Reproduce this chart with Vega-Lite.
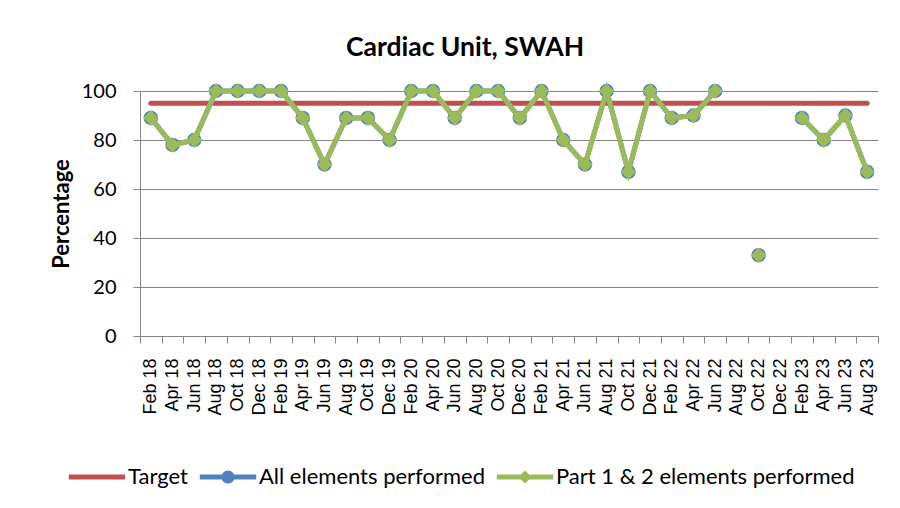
{
  "$schema": "https://vega.github.io/schema/vega-lite/v6.json",
  "width": 738,
  "height": 245,
  "autosize": {"type": "none"},
  "padding": {"left": 140, "top": 91, "right": 22, "bottom": 172},
  "background": "white",
  "title": {
    "text": "Cardiac Unit, SWAH",
    "font": "Lato",
    "fontSize": 26.5,
    "fontWeight": "bold",
    "color": "black",
    "anchor": "middle",
    "dx": -44,
    "offset": 20
  },
  "config": {"view": {"stroke": null}},
  "data": {
    "values": [
      {"month": "Feb 18", "target": 95, "all": 89, "part": 89},
      {"month": "Apr 18", "target": 95, "all": 78, "part": 78},
      {"month": "Jun 18", "target": 95, "all": 80, "part": 80},
      {"month": "Aug 18", "target": 95, "all": 100, "part": 100},
      {"month": "Oct 18", "target": 95, "all": 100, "part": 100},
      {"month": "Dec 18", "target": 95, "all": 100, "part": 100},
      {"month": "Feb 19", "target": 95, "all": 100, "part": 100},
      {"month": "Apr 19", "target": 95, "all": 89, "part": 89},
      {"month": "Jun 19", "target": 95, "all": 70, "part": 70},
      {"month": "Aug 19", "target": 95, "all": 89, "part": 89},
      {"month": "Oct 19", "target": 95, "all": 89, "part": 89},
      {"month": "Dec 19", "target": 95, "all": 80, "part": 80},
      {"month": "Feb 20", "target": 95, "all": 100, "part": 100},
      {"month": "Apr 20", "target": 95, "all": 100, "part": 100},
      {"month": "Jun 20", "target": 95, "all": 89, "part": 89},
      {"month": "Aug 20", "target": 95, "all": 100, "part": 100},
      {"month": "Oct 20", "target": 95, "all": 100, "part": 100},
      {"month": "Dec 20", "target": 95, "all": 89, "part": 89},
      {"month": "Feb 21", "target": 95, "all": 100, "part": 100},
      {"month": "Apr 21", "target": 95, "all": 80, "part": 80},
      {"month": "Jun 21", "target": 95, "all": 70, "part": 70},
      {"month": "Aug 21", "target": 95, "all": 100, "part": 100},
      {"month": "Oct 21", "target": 95, "all": 67, "part": 67},
      {"month": "Dec 21", "target": 95, "all": 100, "part": 100},
      {"month": "Feb 22", "target": 95, "all": 89, "part": 89},
      {"month": "Apr 22", "target": 95, "all": 90, "part": 90},
      {"month": "Jun 22", "target": 95, "all": 100, "part": 100},
      {"month": "Aug 22", "target": 95, "all": null, "part": null},
      {"month": "Oct 22", "target": 95, "all": 33, "part": 33},
      {"month": "Dec 22", "target": 95, "all": null, "part": null},
      {"month": "Feb 23", "target": 95, "all": 89, "part": 89},
      {"month": "Apr 23", "target": 95, "all": 80, "part": 80},
      {"month": "Jun 23", "target": 95, "all": 90, "part": 90},
      {"month": "Aug 23", "target": 95, "all": 67, "part": 67}
    ]
  },
  "encoding": {
    "x": {
      "field": "month",
      "type": "nominal",
      "sort": null,
      "bandPosition": 0.5,
      "scale": {"type": "band", "paddingInner": 0, "paddingOuter": 0},
      "axis": {
        "title": null,
        "labelAngle": -90,
        "labelFont": "Liberation Sans",
        "labelFontSize": 18,
        "labelColor": "black",
        "labelPadding": 15,
        "tickBand": "extent",
        "tickSize": 7,
        "tickColor": "#868686",
        "domainColor": "#868686",
        "grid": false,
        "labelOverlap": false
      }
    }
  },
  "layer": [
    {
      "mark": {"type": "line", "strokeWidth": 5, "strokeCap": "round"},
      "encoding": {
        "y": {
          "field": "target",
          "type": "quantitative",
          "scale": {"domain": [0, 100]},
          "axis": {
            "values": [0, 20, 40, 60, 80, 100],
            "title": "Percentage",
            "titleFont": "Lato",
            "titleFontSize": 22,
            "titleFontWeight": "bold",
            "titleColor": "black",
            "titleX": -79,
            "titleY": 122.5,
            "titleAngle": -90,
            "titleAlign": "center",
            "titleBaseline": "middle",
            "labelFont": "Lato",
            "labelFontSize": 20,
            "labelColor": "black",
            "labelPadding": 17,
            "tickSize": 7,
            "tickColor": "#868686",
            "domainColor": "#868686",
            "gridColor": "#868686",
            "grid": true
          }
        },
        "color": {
          "datum": "Target",
          "type": "nominal",
          "scale": {
            "domain": ["Target", "All elements performed", "Part 1 & 2 elements performed"],
            "range": ["#C0504D", "#4F81BD", "#9BBB59"]
          },
          "legend": {
            "title": null,
            "orient": "none",
            "direction": "horizontal",
            "legendX": -76,
            "legendY": 375,
            "padding": 0,
            "labelFont": "Lato",
            "labelFontSize": 22,
            "labelColor": "black",
            "labelLimit": 0,
            "symbolSize": 144,
            "symbolOffset": 22,
            "labelOffset": 20,
            "columnPadding": 7,
            "encode": {
              "symbols": {
                "update": {
                  "shape": {"signal": "datum.value === 'Target' ? 'M-4.7,-0.42H4.7V0.42H-4.7Z' : datum.value === 'All elements performed' ? 'M-4.7,-0.42H4.7V0.42H-4.7Z M1.1,0A1.1,1.1 0 1 1 -1.1,0A1.1,1.1 0 1 1 1.1,0Z' : 'M-4.7,-0.42H4.7V0.42H-4.7Z M0,-1.1L1.1,0L0,1.1L-1.1,0Z'"},
                  "fill": {"signal": "datum.value === 'Target' ? '#C0504D' : datum.value === 'All elements performed' ? '#4F81BD' : '#9BBB59'"},
                  "stroke": {"value": "transparent"},
                  "strokeWidth": {"value": 0},
                  "opacity": {"value": 1}
                }
              }
            }
          }
        }
      }
    },
    {
      "mark": {"type": "line", "strokeWidth": 5, "invalid": "break-paths-show-domains"},
      "encoding": {
        "y": {"field": "all", "type": "quantitative"},
        "color": {"datum": "All elements performed", "type": "nominal"}
      }
    },
    {
      "mark": {"type": "point", "shape": "circle", "filled": true, "size": 210, "opacity": 1},
      "encoding": {
        "y": {"field": "all", "type": "quantitative"},
        "color": {"datum": "All elements performed", "type": "nominal"}
      }
    },
    {
      "mark": {"type": "line", "strokeWidth": 5, "invalid": "break-paths-show-domains"},
      "encoding": {
        "y": {"field": "part", "type": "quantitative"},
        "color": {"datum": "Part 1 & 2 elements performed", "type": "nominal"}
      }
    },
    {
      "mark": {"type": "point", "shape": "diamond", "filled": true, "size": 240, "opacity": 1},
      "encoding": {
        "y": {"field": "part", "type": "quantitative"},
        "color": {"datum": "Part 1 & 2 elements performed", "type": "nominal"}
      }
    }
  ]
}
